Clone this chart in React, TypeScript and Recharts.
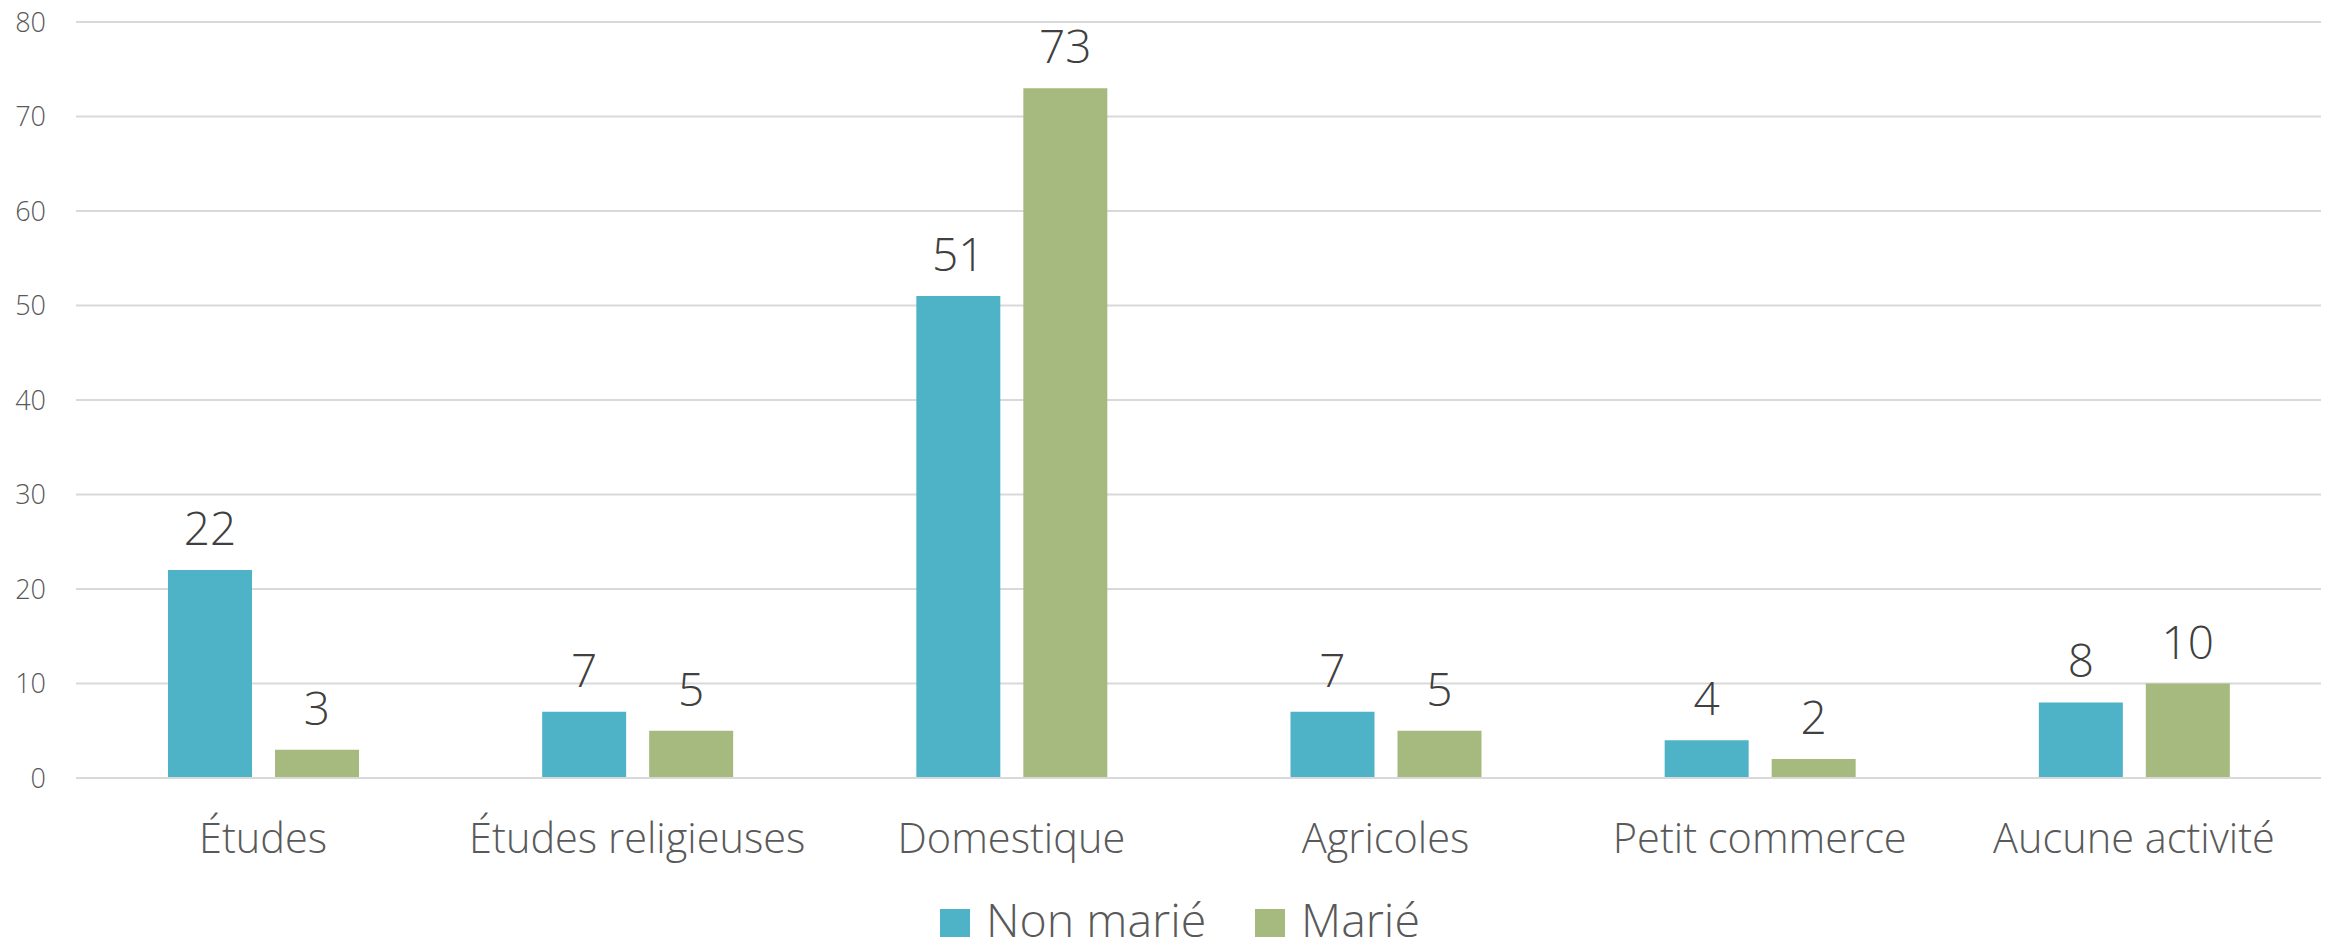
import React from 'react';
import { BarChart, Bar, XAxis, YAxis, CartesianGrid, Legend, LabelList } from 'recharts';

const categories = ['Études', 'Études religieuses', 'Domestique', 'Agricoles', 'Petit commerce', 'Aucune activité'];
const nonMarie = [22, 7, 51, 7, 4, 8];
const marie = [3, 5, 73, 5, 2, 10];
const yTicks = [0, 10, 20, 30, 40, 50, 60, 70, 80];
const seriesNames = ['Non marié', 'Marié'];

const BLUE = '#4FB3C7';
const GREEN = '#A6B97E';
const FONT = '"Open Sans", Lato, sans-serif';

const data = categories.map((c, i) => ({ name: c, nonMarie: nonMarie[i], marie: marie[i] }));

const XTick = (props: any) => {
  const { x, y, payload } = props;
  return (
    <text x={x} y={y + 73} textAnchor="middle" fill="#595959" fontSize={41.5} fontFamily={FONT} fontWeight={300}>
      {payload.value}
    </text>
  );
};

const YTick = (props: any) => {
  const { y, payload } = props;
  return (
    <text x={46} y={y} dy="0.36em" textAnchor="end" fill="#595959" fontSize={27} fontFamily={FONT} fontWeight={300}>
      {payload.value}
    </text>
  );
};

const ValueLabel = (props: any) => {
  const { x, y, width, value } = props;
  return (
    <text x={x + width / 2} y={y - 25} textAnchor="middle" fill="#404040" fontSize={46} fontFamily={FONT} fontWeight={300}>
      {value}
    </text>
  );
};

const LegendContent = () => {
  const colors = [BLUE, GREEN];
  const xs = [940, 1255];
  return (
    <svg width={2331} height={54} style={{ display: 'block', overflow: 'visible' }}>
      {seriesNames.map((n, i) => (
        <g key={n}>
          <rect x={xs[i]} y={19} width={30} height={28} fill={colors[i]} />
          <text x={xs[i] + 46} y={47} fill="#595959" fontSize={46.5} fontFamily={FONT} fontWeight={300}>
            {n}
          </text>
        </g>
      ))}
    </svg>
  );
};

export default function App() {
  return (
    <div style={{ position: 'absolute', left: 0, top: 0, width: 2331, height: 944, background: '#fff' }}>
      <BarChart
        width={2331}
        height={944}
        data={data}
        margin={{ top: 22, right: 10, left: 0, bottom: 0 }}
        barSize={84}
        barGap={23}
      >
        <CartesianGrid vertical={false} stroke="#D9D9D9" strokeWidth={2} />
        <XAxis
          dataKey="name"
          axisLine={{ stroke: '#D9D9D9', strokeWidth: 2 }}
          tickLine={false}
          tickSize={0}
          height={112}
          tick={<XTick />}
          interval={0}
        />
        <YAxis
          width={76}
          domain={[0, 80]}
          ticks={yTicks}
          axisLine={false}
          tickLine={false}
          tick={<YTick />}
        />
        <Legend
          verticalAlign="bottom"
          height={54}
          wrapperStyle={{ height: 54, top: 890, left: 0, width: 2331 }}
          content={<LegendContent />}
        />
        <Bar dataKey="nonMarie" name={seriesNames[0]} fill={BLUE} isAnimationActive={false}>
          <LabelList dataKey="nonMarie" content={<ValueLabel />} />
        </Bar>
        <Bar dataKey="marie" name={seriesNames[1]} fill={GREEN} isAnimationActive={false}>
          <LabelList dataKey="marie" content={<ValueLabel />} />
        </Bar>
      </BarChart>
    </div>
  );
}
